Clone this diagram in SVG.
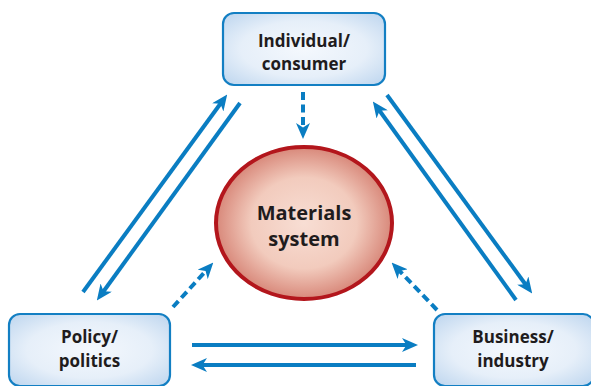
<svg xmlns="http://www.w3.org/2000/svg" width="591" height="386" viewBox="0 0 591 386">
  <defs>
    <radialGradient id="boxFill" cx="50%" cy="50%" r="65%">
      <stop offset="0" stop-color="#f4f8fd"/>
      <stop offset="0.6" stop-color="#e6eff9"/>
      <stop offset="1" stop-color="#c3d9f0"/>
    </radialGradient>
    <radialGradient id="ellFill" cx="50%" cy="50%" r="50%">
      <stop offset="0" stop-color="#f8ded4"/>
      <stop offset="0.6" stop-color="#f2cbbd"/>
      <stop offset="1" stop-color="#d8887a"/>
    </radialGradient>
    <marker id="ah" viewBox="0 0 16 14" markerWidth="16" markerHeight="14" refX="6" refY="7" orient="auto" markerUnits="userSpaceOnUse">
      <path d="M0,0 L16,7 L0,14 L4.5,7 Z" fill="#0a7dc2"/>
    </marker>
  </defs>
  <style>
    .box { fill: url(#boxFill); stroke: #137fc3; stroke-width: 2.2; }
    .lbl { font-family: "Open Sans", "Noto Sans", "Liberation Sans", sans-serif; font-weight: 700; font-size: 17px; fill: #1f1c1d; text-anchor: middle; }
    .big { font-size: 20px; }
    .arr { stroke: #0a7dc2; stroke-width: 4; fill: none; marker-end: url(#ah); }
    .dash { stroke-dasharray: 8 4.5; }
  </style>

  <g id="connectors">
    <line class="arr" x1="83" y1="292" x2="221.3" y2="102.5"/>
    <line class="arr" x1="240" y1="103" x2="102.7" y2="292.5"/>
    <line class="arr" x1="387" y1="95" x2="526.3" y2="285.5"/>
    <line class="arr" x1="516" y1="300" x2="378.7" y2="109.5"/>
    <line class="arr" x1="192" y1="345" x2="408" y2="345"/>
    <line class="arr" x1="416" y1="365" x2="201" y2="365"/>
    <line class="arr dash" x1="303" y1="92" x2="303" y2="129"/>
    <line class="arr dash" x1="173" y1="307" x2="206.6" y2="270"/>
    <line class="arr dash" x1="437" y1="310" x2="398.5" y2="269.8"/>
  </g>

  <g id="individual">
    <rect class="box" x="223" y="13" width="162" height="72" rx="11"/>
    <text class="lbl" x="304" y="47">Individual/</text>
    <text class="lbl" x="304" y="70">consumer</text>
  </g>

  <g id="materials">
    <ellipse cx="304" cy="223" rx="88" ry="76" fill="url(#ellFill)" stroke="#b3161c" stroke-width="4"/>
    <text class="lbl big" x="304" y="220">Materials</text>
    <text class="lbl big" x="304" y="246">system</text>
  </g>

  <g id="policy">
    <rect class="box" x="9" y="314" width="161" height="72" rx="11"/>
    <text class="lbl" x="89.5" y="343">Policy/</text>
    <text class="lbl" x="89.5" y="367">politics</text>
  </g>

  <g id="business">
    <rect class="box" x="434" y="314" width="160" height="72" rx="11"/>
    <text class="lbl" x="513" y="343">Business/</text>
    <text class="lbl" x="513" y="367">industry</text>
  </g>
</svg>
